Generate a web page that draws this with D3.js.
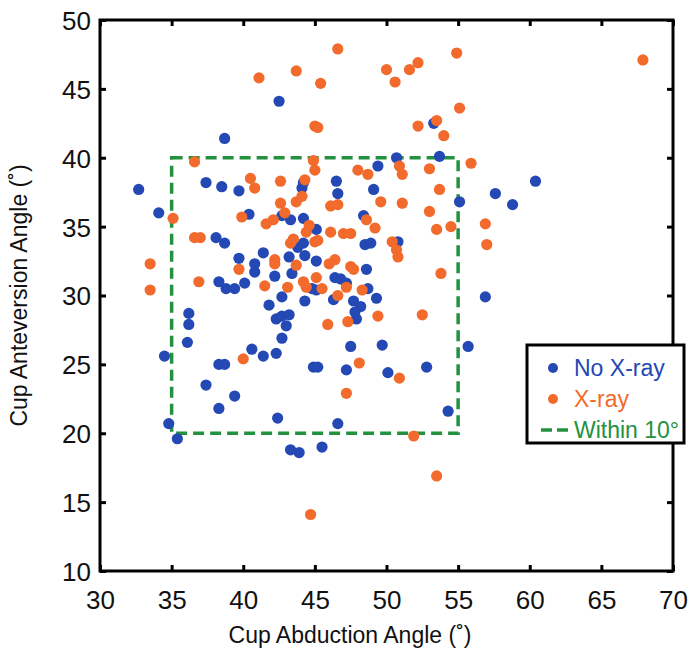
<!DOCTYPE html>
<html>
<head>
<meta charset="utf-8">
<script src="https://cdn.jsdelivr.net/npm/d3@7"></script>
<style>
  body { margin: 0; background: #fff; }
  text { font-family: "Liberation Sans", Arial, sans-serif; }
</style>
</head>
<body>
<div id="chart"></div>
<script>
// abduction (x) and anteversion (y) angles
var noXrayAbd = [32.7, 34.1, 34.5, 34.8, 35.4, 36.2, 36.2, 36.1, 37.4, 37.4, 38.1, 38.3, 38.5, 38.7, 38.7, 38.3,
  38.8, 39.4, 38.3, 38.7, 39.4, 39.7, 39.7, 40.1, 40.4, 40.6, 40.8, 40.8, 41.4, 41.4, 41.8, 42.2, 42.3, 42.3,
  42.4, 42.5, 42.7, 42.7, 42.7, 42.7, 43.0, 43.2, 43.2, 43.3, 43.4, 43.3, 43.8, 43.9, 44.2, 44.1, 44.2, 44.2,
  44.3, 44.3, 44.8, 45.1, 45.1, 45.1, 44.9, 45.2, 45.5, 46.3, 46.4, 46.8, 46.5, 46.6, 46.6, 47.2, 47.2, 47.5,
  47.7, 48.2, 47.8, 47.9, 48.4, 48.5, 48.9, 48.6, 48.7, 49.1, 49.3, 49.4, 49.7, 50.1, 50.7, 50.8, 52.8, 53.3,
  53.7, 54.3, 55.1, 55.7, 56.9, 57.6, 58.8, 60.4];
var noXrayAnt = [37.7, 36.0, 25.6, 20.7, 19.6, 28.7, 27.9, 26.6, 38.2, 23.5, 34.2, 21.8, 37.9, 41.4, 33.8, 31.0,
  30.5, 30.5, 25.0, 25.0, 22.7, 37.6, 32.7, 30.9, 35.9, 26.1, 32.3, 31.7, 33.1, 25.6, 29.3, 31.4, 28.3, 25.8,
  21.1, 44.1, 35.8, 29.9, 28.5, 26.9, 27.8, 32.8, 28.6, 35.5, 31.6, 18.8, 33.5, 18.6, 38.2, 37.8, 35.6, 33.8,
  32.9, 29.6, 30.5, 34.8, 32.5, 30.4, 24.8, 24.8, 19.0, 29.7, 31.3, 31.2, 38.3, 37.4, 20.7, 30.9, 24.6, 26.3,
  29.6, 29.2, 28.8, 28.3, 35.8, 33.7, 33.8, 31.9, 30.5, 37.7, 29.8, 39.4, 26.4, 24.4, 40.0, 33.9, 24.8, 42.5,
  40.1, 21.6, 36.8, 26.3, 29.9, 37.4, 36.6, 38.3];

var xrayAbd = [33.5, 33.5, 35.1, 36.6, 36.6, 37.0, 36.9, 39.7, 39.9, 40.0, 40.5, 40.8, 41.1, 41.5, 41.6, 42.1,
  42.2, 42.2, 42.6, 42.6, 42.9, 43.1, 43.3, 43.5, 43.7, 43.7, 43.7, 44.1, 44.3, 44.2, 44.4, 44.6, 44.4, 44.7,
  44.9, 45.0, 45.0, 45.2, 45.0, 45.2, 45.1, 45.4, 45.5, 45.9, 46.0, 46.4, 46.1, 46.6, 46.1, 46.6, 46.6, 47.0,
  47.5, 47.2, 47.2, 47.3, 47.5, 47.7, 48.0, 48.1, 48.3, 48.6, 48.7, 49.2, 49.4, 49.6, 50.0, 50.4, 50.7, 50.8,
  50.6, 50.9, 50.9, 51.1, 51.1, 51.6, 51.9, 52.2, 52.2, 52.5, 53.0, 53.0, 53.5, 53.5, 53.5, 53.7, 53.8, 54.0,
  54.5, 54.9, 55.1, 55.9, 56.9, 57.0, 67.9];
var xrayAnt = [32.3, 30.4, 35.6, 39.7, 34.2, 34.2, 31.0, 31.9, 35.7, 25.4, 38.5, 37.8, 45.8, 30.7, 35.2, 35.5,
  32.6, 32.3, 38.3, 36.7, 36.0, 30.6, 33.8, 34.1, 46.3, 36.8, 32.2, 37.2, 38.4, 31.0, 30.6, 35.1, 34.6, 14.1,
  39.8, 39.1, 42.3, 42.2, 33.9, 34.0, 31.3, 45.4, 30.5, 27.9, 32.3, 32.6, 36.5, 36.6, 34.6, 47.9, 30.0, 34.5,
  34.5, 30.6, 22.9, 28.1, 32.1, 31.9, 39.1, 25.1, 30.4, 35.5, 38.8, 34.9, 28.5, 36.8, 46.4, 33.9, 33.3, 32.8,
  45.5, 24.0, 39.4, 38.8, 36.7, 46.4, 19.8, 42.3, 46.9, 28.6, 39.2, 36.1, 42.7, 34.8, 16.9, 37.7, 31.6, 41.6,
  35.0, 47.6, 43.6, 39.6, 35.2, 33.7, 47.1];

var xTicks = [30, 35, 40, 45, 50, 55, 60, 65, 70];
var yTicks = [10, 15, 20, 25, 30, 35, 40, 45, 50];
var targetAbd = [35, 55];
var targetAnt = [20, 40];
var legendLabels = ["No X-ray", "X-ray", "Within 10\u00b0"];

var blue = "#2448b4", orange = "#f26a2c", green = "#23913f";

var width = 691, height = 664;
var svg = d3.select("#chart").append("svg")
  .attr("width", width)
  .attr("height", height);

var x = d3.scaleLinear().domain([30, 70]).range([100, 673]);
var y = d3.scaleLinear().domain([10, 50]).range([571, 20]);

function pairs(a, b) {
  return a.map(function(d, i) { return [d, b[i]]; });
}

// target zone
svg.append("rect")
  .attr("x", x(targetAbd[0]))
  .attr("y", y(targetAnt[1]))
  .attr("width", x(targetAbd[1]) - x(targetAbd[0]))
  .attr("height", y(targetAnt[0]) - y(targetAnt[1]))
  .attr("fill", "none")
  .attr("stroke", green)
  .attr("stroke-width", 3.5)
  .attr("stroke-dasharray", "11,6");

svg.append("g").selectAll("circle")
  .data(pairs(noXrayAbd, noXrayAnt))
  .enter().append("circle")
  .attr("cx", function(d) { return x(d[0]); })
  .attr("cy", function(d) { return y(d[1]); })
  .attr("r", 5.6)
  .attr("fill", blue);

svg.append("g").selectAll("circle")
  .data(pairs(xrayAbd, xrayAnt))
  .enter().append("circle")
  .attr("cx", function(d) { return x(d[0]); })
  .attr("cy", function(d) { return y(d[1]); })
  .attr("r", 5.6)
  .attr("fill", orange);

// axes, ticks pointing inward on all four sides
var bottom = svg.append("g")
  .attr("transform", "translate(0," + y(10) + ")")
  .call(d3.axisBottom(x).tickValues(xTicks).tickSizeInner(-6).tickSizeOuter(0).tickPadding(24));
var left = svg.append("g")
  .attr("transform", "translate(" + x(30) + ",0)")
  .call(d3.axisLeft(y).tickValues(yTicks).tickSizeInner(-6).tickSizeOuter(0).tickPadding(9));
svg.append("g")
  .attr("transform", "translate(0," + y(50) + ")")
  .call(d3.axisTop(x).tickValues(xTicks).tickSizeInner(-6).tickSizeOuter(0).tickFormat(""));
svg.append("g")
  .attr("transform", "translate(" + x(70) + ",0)")
  .call(d3.axisRight(y).tickValues(yTicks).tickSizeInner(-6).tickSizeOuter(0).tickFormat(""));

svg.selectAll(".tick line").attr("stroke", "#000").attr("stroke-width", 3);
svg.selectAll(".domain").remove();
bottom.selectAll("text").attr("font-size", 26).attr("fill", "#111").attr("dy", "0.55em");
left.selectAll("text").attr("font-size", 26).attr("fill", "#111").attr("dy", "0.36em");

svg.append("rect")
  .attr("x", x(30))
  .attr("y", y(50))
  .attr("width", x(70) - x(30))
  .attr("height", y(10) - y(50))
  .attr("fill", "none")
  .attr("stroke", "#000")
  .attr("stroke-width", 3);

svg.append("text")
  .attr("x", 350)
  .attr("y", 643)
  .attr("text-anchor", "middle")
  .attr("font-size", 23)
  .attr("fill", "#111")
  .text("Cup Abduction Angle (\u02da)");

svg.append("text")
  .attr("transform", "translate(27," + (y(30)) + ") rotate(-90)")
  .attr("text-anchor", "middle")
  .attr("font-size", 23)
  .attr("fill", "#111")
  .text("Cup Anteversion Angle (\u02da)");

// legend
var legend = svg.append("g").attr("transform", "translate(527,345)");
legend.append("rect")
  .attr("width", 157)
  .attr("height", 98)
  .attr("fill", "#fff")
  .attr("stroke", "#000")
  .attr("stroke-width", 3);

var legendColors = [blue, orange, green];
legendLabels.forEach(function(label, i) {
  var cy = 23 + i * 31;
  if (i < 2) {
    legend.append("circle")
      .attr("cx", 26)
      .attr("cy", cy)
      .attr("r", 5)
      .attr("fill", legendColors[i]);
  } else {
    legend.append("line")
      .attr("x1", 14).attr("x2", 41)
      .attr("y1", cy).attr("y2", cy)
      .attr("stroke", green)
      .attr("stroke-width", 3.5)
      .attr("stroke-dasharray", "11,5");
  }
  legend.append("text")
    .attr("x", 47)
    .attr("y", cy)
    .attr("dy", "0.36em")
    .attr("font-size", 23)
    .attr("fill", legendColors[i])
    .text(label);
});
</script>
</body>
</html>
